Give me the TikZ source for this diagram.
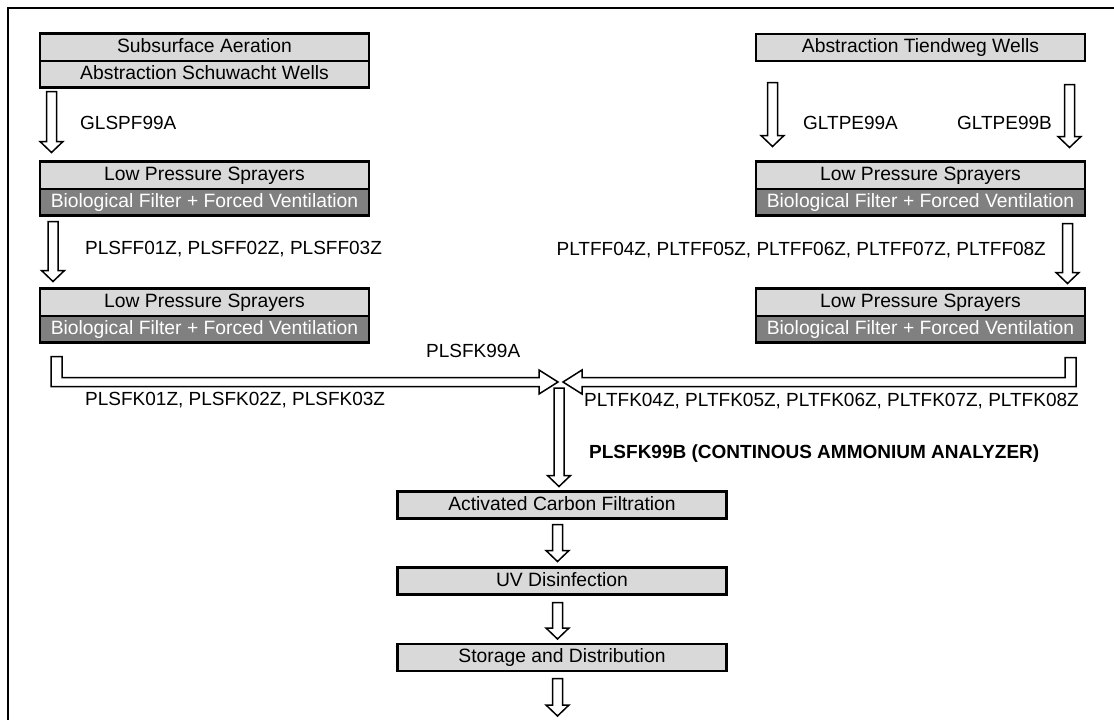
\documentclass[tikz,border=0pt]{standalone}
\usepackage{fontspec}
\setmainfont{Liberation Sans}
\usetikzlibrary{positioning,calc}
\newcommand{\stagefont}{\fontsize{19.3}{22}\selectfont}
\newcommand{\tagfont}{\fontsize{19}{22}\selectfont}
\tikzset{
  stage/.style={draw,line width=1pt,fill=gray!30,minimum width=328pt,minimum height=26pt,
    inner sep=0pt,text height=13.6pt,text depth=3.6pt,font=\stagefont},
  stagedark/.style={stage,fill=gray,text=white},
  frame/.style={line width=2.2pt},
  flow/.style={draw,line width=1.5pt,fill=white,line join=miter},
  tag/.style={inner sep=0pt,anchor=west,text height=13.6pt,text depth=3.6pt,font=\tagfont},
}
% vertical block arrow: #1 start of shaft, #2 gives the height of the tip
\newcommand{\downflow}[2]{%
  \path[flow] let \p1=(#1), \p2=(#2) in
    (\x1-5pt,\y1) -- (\x1-5pt,\y2+11pt) -- (\x1-11.5pt,\y2+11pt) -- (\x1,\y2)
    -- (\x1+11.5pt,\y2+11pt) -- (\x1+5pt,\y2+11pt) -- (\x1+5pt,\y1) -- cycle;}
\begin{document}
\begin{tikzpicture}[x=1pt,y=-1pt]
  \useasboundingbox (0,0) rectangle (1114,720);
  \draw[line width=1.8pt] (8,720) -- (8,8) -- (1114,8);
%%
  % Node: schuwacht
  \node[stage] (schuw1) at (204.5,47) {Subsurface Aeration};
  \node[stage,below=0pt of schuw1] (schuw2) {Abstraction Schuwacht Wells};
  \draw[frame] (schuw1.north west) rectangle (schuw2.south east);
  % Node: tiendweg
  \node[stage] (tiend) at (920.5,47.5) {Abstraction Tiendweg Wells};
  \draw[frame] (tiend.north west) rectangle (tiend.south east);
  % Node: sprayA (left)
  \node[stage] (sprayA1) at (204.5,175) {Low Pressure Sprayers};
  \node[stagedark,below=0pt of sprayA1] (sprayA2) {Biological Filter + Forced Ventilation};
  \draw[frame] (sprayA1.north west) rectangle (sprayA2.south east);
  % Node: sprayB (right)
  \node[stage] (sprayB1) at (920.5,175) {Low Pressure Sprayers};
  \node[stagedark,below=0pt of sprayB1] (sprayB2) {Biological Filter + Forced Ventilation};
  \draw[frame] (sprayB1.north west) rectangle (sprayB2.south east);
  % Node: sprayC (left)
  \node[stage] (sprayC1) at (204.5,302) {Low Pressure Sprayers};
  \node[stagedark,below=0pt of sprayC1] (sprayC2) {Biological Filter + Forced Ventilation};
  \draw[frame] (sprayC1.north west) rectangle (sprayC2.south east);
  % Node: sprayD (right)
  \node[stage] (sprayD1) at (920.5,302) {Low Pressure Sprayers};
  \node[stagedark,below=0pt of sprayD1] (sprayD2) {Biological Filter + Forced Ventilation};
  \draw[frame] (sprayD1.north west) rectangle (sprayD2.south east);
  % Node: carbon, uv, storage
  \node[stage] (carbon) at (562,505) {Activated Carbon Filtration};
  \draw[frame] (carbon.north west) rectangle (carbon.south east);
  \node[stage] (uv) at (562,581) {UV Disinfection};
  \draw[frame] (uv.north west) rectangle (uv.south east);
  \node[stage] (storage) at (562,657.5) {Storage and Distribution};
  \draw[frame] (storage.north west) rectangle (storage.south east);
  \coordinate (junc) at (560,382);
  \coordinate (outlet) at (557.5,716);
%%
  % Edge: schuwacht -> sprayA
  \downflow{$(schuw2.south west)+(11.5,4)$}{$(sprayA1.north west)+(0,-9)$}
  \node[tag] (glspf) at (80,124) {GLSPF99A};
  % Edge: tiendweg -> sprayB
  \downflow{$(sprayB1.north west)+(16.5,-79)$}{$(sprayB1.north west)+(0,-15)$}
  \downflow{$(sprayB1.north east)+(-15.5,-77)$}{$(sprayB1.north east)+(0,-14)$}
  \node[tag] (gltpeA) at (803,124) {GLTPE99A};
  \node[tag,anchor=east] (gltpeB) at (1052,124) {GLTPE99B};
  % Edge: sprayA -> sprayC
  \downflow{$(sprayA2.south west)+(13,6)$}{$(sprayC1.north west)+(0,-7)$}
  \node[tag] (plsff) at (85,249) {PLSFF01Z, PLSFF02Z, PLSFF03Z};
  % Edge: sprayB -> sprayD
  \downflow{$(sprayB2.south east)+(-17.5,8)$}{$(sprayD1.north east)+(0,-5)$}
  \node[tag,anchor=east] (pltff) at (1046,250) {PLTFF04Z, PLTFF05Z, PLTFF06Z, PLTFF07Z, PLTFF08Z};
  % Edge: sprayC -> junc
  \path[flow] let \p1=($(sprayC2.south west)+(16.5,14)$), \p2=($(junc)+(-2,0)$) in
    (\x1-5.5pt,\y1) -- (\x1-5.5pt,\y2-4.5pt) -- (\x2-19pt,\y2-4.5pt) -- (\x2-19pt,\y2-12pt)
    -- (\x2,\y2) -- (\x2-19pt,\y2+12pt) -- (\x2-19pt,\y2+4.5pt) -- (\x1+5.5pt,\y2+4.5pt)
    -- (\x1+5.5pt,\y1) -- cycle;
  \node[tag] (plsfkA) at (426,352) {PLSFK99A};
  \node[tag] (plsfk) at (85,400) {PLSFK01Z, PLSFK02Z, PLSFK03Z};
  % Edge: sprayD -> junc
  \path[flow] let \p1=($(sprayD2.south east)+(-14.5,15)$), \p2=($(junc)+(3,0)$) in
    (\x1+5.5pt,\y1) -- (\x1+5.5pt,\y2-4.5pt) -- (\x2+19pt,\y2-4.5pt) -- (\x2+19pt,\y2-12pt)
    -- (\x2,\y2) -- (\x2+19pt,\y2+12pt) -- (\x2+19pt,\y2+4.5pt) -- (\x1-5.5pt,\y2+4.5pt)
    -- (\x1-5.5pt,\y1) -- cycle;
  \node[tag] (pltfk) at (584,401) {PLTFK04Z, PLTFK05Z, PLTFK06Z, PLTFK07Z, PLTFK08Z};
  % Edge: junc -> carbon
  \downflow{$(junc)+(-1,6)$}{$(carbon.north)+(0,-5)$}
  \node[tag,font=\tagfont\bfseries] (plsfkB) at (589,453) {PLSFK99B (CONTINOUS AMMONIUM ANALYZER)};
  % Edge: carbon -> uv -> storage -> outlet
  \downflow{$(carbon.south)+(-4.5,6)$}{$(uv.north)+(0,-6)$}
  \downflow{$(uv.south)+(-4.5,8)$}{$(storage.north)+(0,-5)$}
  \downflow{$(storage.south)+(-4.5,7.5)$}{outlet}
%
\end{tikzpicture}
\end{document}
